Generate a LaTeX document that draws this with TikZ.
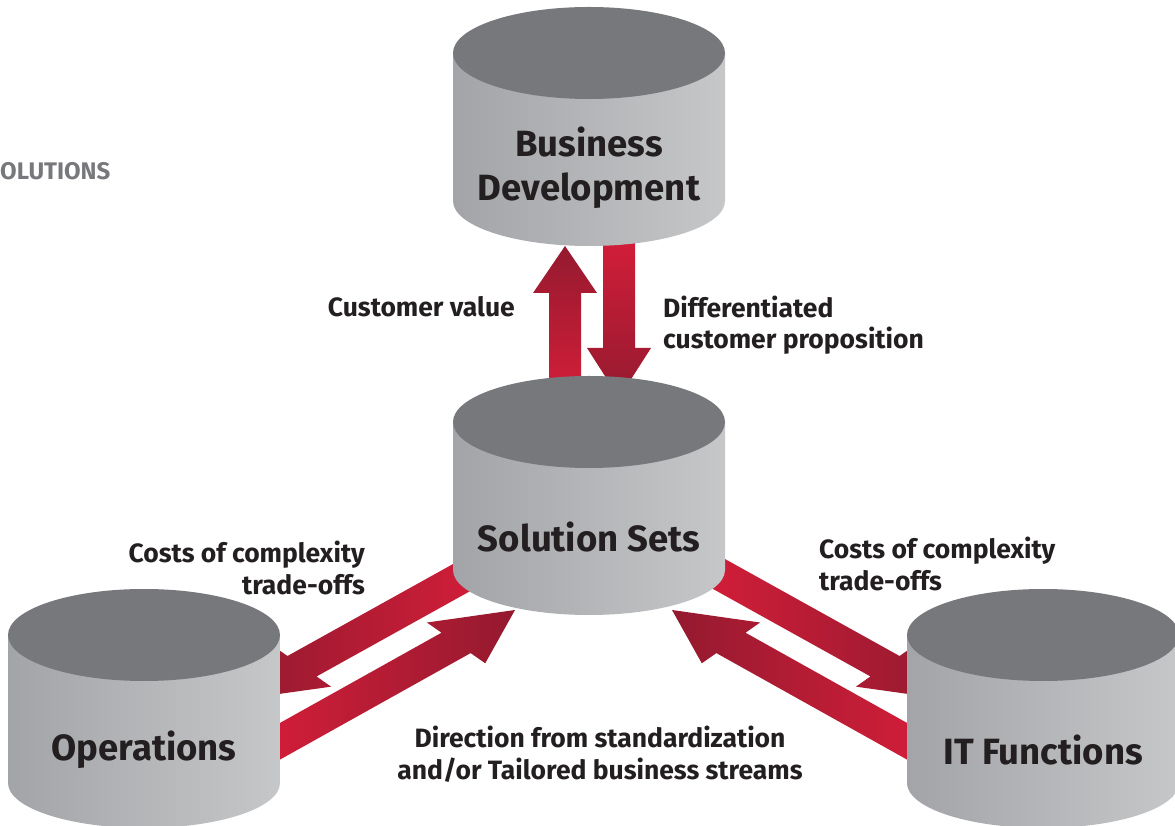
\documentclass[tikz,border=0pt]{standalone}
\usepackage{fontspec}
\setmainfont{Fira Sans}
\usetikzlibrary{calc,positioning}

\definecolor{drumtop}{HTML}{77787B}
\definecolor{drumleft}{HTML}{A3A4A7}
\definecolor{drumright}{HTML}{C6C7C9}
\definecolor{redlight}{HTML}{D81E3A}
\definecolor{reddark}{HTML}{941A2F}
\definecolor{ink}{HTML}{231F20}
\definecolor{greytext}{HTML}{77787B}

\tikzset{
  drumbody/.style={left color=drumleft,right color=drumright},
  drumtext/.style={font=\fontsize{36.5}{44}\selectfont\bfseries,text=ink,align=center,inner sep=0},
  lbl/.style={font=\fontsize{26.5}{31.5}\selectfont\bfseries,text=ink,inner sep=0},
}

% fat arrow: tail, tip, setback of left barb, setback of right barb, shading
\newcommand\fatarrow[5]{%
  \pgfmathsetmacro\lj{(3*#3+#4)/4}%
  \pgfmathsetmacro\rj{(#3+3*#4)/4}%
  \coordinate (lb) at ($(#2)!#3pt!(#1)$);
  \coordinate (rb) at ($(#2)!#4pt!(#1)$);
  \coordinate (lj) at ($(#2)!\lj pt!(#1)$);
  \coordinate (rj) at ($(#2)!\rj pt!(#1)$);
  \shade[#5] ($(#1)!16pt!90:(#2)$) -- ($(lj)!16pt!90:(#2)$) -- ($(lb)!32pt!90:(#2)$) -- (#2)
    -- ($(rb)!32pt!-90:(#2)$) -- ($(rj)!16pt!-90:(#2)$) -- ($(#1)!16pt!-90:(#2)$) -- cycle;
}

% drum: top centre, label
\newcommand\drum[2]{%
  \shade[drumbody] ($(#1)+(-136,0)$) -- ++(0,-148)
    arc[start angle=180,end angle=360,x radius=136,y radius=45] -- ++(0,148) -- cycle;
  \fill[drumtop] (#1) ellipse[x radius=136,y radius=46];
  \node[drumtext] (#1-label) at ($(#1)+(0,-115)$) {#2};
}

\begin{document}
\begin{tikzpicture}[x=1pt,y=1pt]
  \useasboundingbox (0,0) rectangle (1175,825);

  % top centres of the drums
  \coordinate (bd) at (589,772);
  \coordinate (ss) at (589,403);
  \coordinate (ops) at (144,190);
  \coordinate (it) at (1043,190);

  % arrow ends (hidden ends sit behind the drums)
  \coordinate (up-s) at ($(ss)+(-24,17)$);
  \coordinate (up-e) at ($(bd)+(-24,-193)$);
  \coordinate (dn-s) at ($(bd)+(30,-172)$);
  \coordinate (dn-e) at ($(ss)+(30,24)$);
  \coordinate (lc-s) at ($(ss)+(-94,-137)$);
  \coordinate (lc-e) at ($(ops)+(99,-64)$);
  \coordinate (ld-s) at ($(ops)+(106,-123)$);
  \coordinate (ld-e) at ($(ss)+(-74,-188)$);
  \coordinate (rc-s) at ($(ss)+(103,-137)$);
  \coordinate (rc-e) at ($(it)+(-99,-64)$);
  \coordinate (rd-s) at ($(it)+(-106,-123)$);
  \coordinate (rd-e) at ($(ss)+(83,-188)$);

  \fatarrow{up-s}{up-e}{47}{47}{bottom color=redlight,top color=reddark}
  \fatarrow{dn-s}{dn-e}{50}{50}{top color=redlight,bottom color=reddark}
  \fatarrow{lc-s}{lc-e}{83}{52}{left color=reddark,right color=redlight}
  \fatarrow{ld-s}{ld-e}{83}{52}{left color=redlight,right color=reddark}
  \fatarrow{rc-s}{rc-e}{52}{83}{left color=redlight,right color=reddark}
  \fatarrow{rd-s}{rd-e}{52}{83}{left color=reddark,right color=redlight}

  \drum{bd}{Business\\Development}
  \drum{ss}{Solution Sets}
  \drum{ops}{Operations}
  \drum{it}{IT Functions}

  \node[lbl,anchor=east] (cv) at (515,518) {Customer value};
  \node[lbl,anchor=west,align=left] (dcp) at (663,500) {Differentiated\\customer proposition};
  \node[lbl,anchor=east,align=right] (lcost) at (365,257) {Costs of complexity\\trade-offs};
  \node[lbl,anchor=west,align=left] (rcost) at (819,261) {Costs of complexity\\trade-offs};
  \node[lbl,align=center] (dir) at (600,71) {Direction from standardization\\and/or Tailored business streams};
  \node[font=\fontsize{24}{28}\selectfont\bfseries,text=greytext,anchor=west,inner sep=0] (sol) at (0,654) {OLUTIONS};
\end{tikzpicture}
\end{document}
